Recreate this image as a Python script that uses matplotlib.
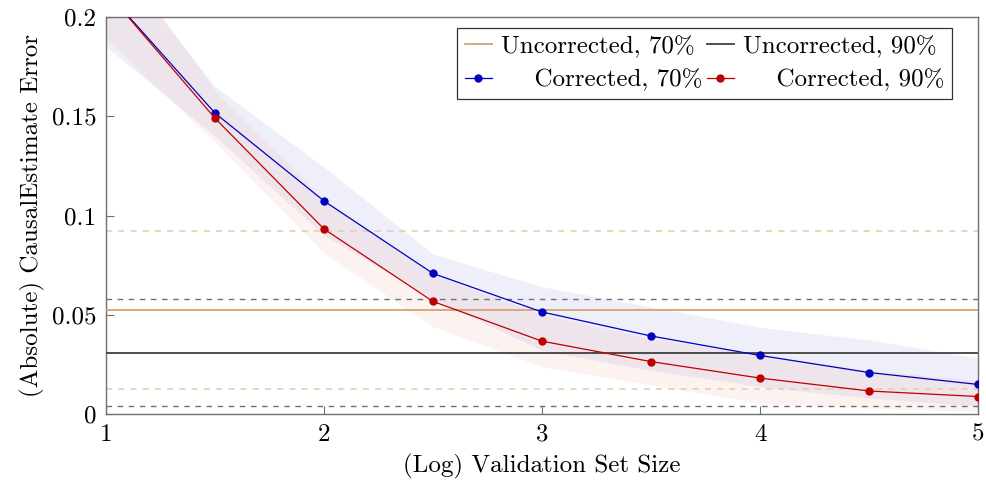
import matplotlib
matplotlib.use("Agg")
import matplotlib.pyplot as plt
from matplotlib.ticker import FixedLocator, FuncFormatter

plt.rcParams["font.family"] = ["cmr10", "DejaVu Serif"]
plt.rcParams["mathtext.fontset"] = "cm"
plt.rcParams["axes.formatter.use_mathtext"] = True

# Log validation set size
log_size = [1.0, 1.5, 2.0, 2.5, 3.0, 3.5, 4.0, 4.5, 5.0]

# Corrected estimates (mean with band bounds)
corr70 = [0.213, 0.1516, 0.1073, 0.0708, 0.0514, 0.0393, 0.0295, 0.0209, 0.0149]
corr70_hi = [0.235, 0.165, 0.1244, 0.0806, 0.0641, 0.0540, 0.0437, 0.0373, 0.0282]
corr70_lo = [0.185, 0.140, 0.090, 0.058, 0.032, 0.022, 0.0138, 0.008, 0.004]

corr90 = [0.213, 0.149, 0.0932, 0.0567, 0.0367, 0.0264, 0.0181, 0.0116, 0.0088]
corr90_hi = [0.240, 0.163, 0.108, 0.070, 0.050, 0.038, 0.030, 0.022, 0.017]
corr90_lo = [0.189, 0.137, 0.081, 0.044, 0.0238, 0.0146, 0.0055, 0.003, 0.0012]

# Uncorrected estimates: level and interval
uncorr70 = 0.0526
uncorr70_band = [0.0126, 0.0924]
uncorr90 = 0.0307
uncorr90_band = [0.0039, 0.0579]

x_ticks = [1, 2, 3, 4, 5]
y_ticks = [0, 0.05, 0.1, 0.15, 0.2]

blue = (0.0, 0.0, 0.75)
red = (0.75, 0.0, 0.0)
blue_band = "#3030c0"
red_band = "#d85030"
orange = "#d4a373"
orange_light = "#e8c9a8"
dark = "#404040"
gray = "#707070"

FS = 18

fig = plt.figure(figsize=(9.87, 4.84), dpi=100)
ax = fig.add_axes([0.1074, 0.1446, 0.8835, 0.8203])

ax.fill_between(log_size, corr70_lo, corr70_hi, color=blue_band, alpha=0.075, lw=0, zorder=1)
ax.fill_between(log_size, corr90_lo, corr90_hi, color=red_band, alpha=0.065, lw=0, zorder=1)

for v in uncorr70_band:
    ax.axhline(v, color=orange_light, lw=1.1, ls=(0, (4, 4)), zorder=2)
for v in uncorr90_band:
    ax.axhline(v, color=gray, lw=1.0, ls=(0, (4, 4)), zorder=2)

h_u70 = ax.axhline(uncorr70, color=orange, lw=1.3, zorder=3, label="Uncorrected, 70%")
h_u90 = ax.axhline(uncorr90, color=dark, lw=1.3, zorder=3, label="Uncorrected, 90%")

h_c70, = ax.plot(log_size, corr70, color=blue, lw=0.9, marker="o", ms=5,
                 zorder=4, label="    Corrected, 70%")
h_c90, = ax.plot(log_size, corr90, color=red, lw=0.9, marker="o", ms=5,
                 zorder=4, label="    Corrected, 90%")

ax.set_xlim(1, 5)
ax.set_ylim(0, 0.2)
ax.xaxis.set_major_locator(FixedLocator(x_ticks))
ax.yaxis.set_major_locator(FixedLocator(y_ticks))
ax.xaxis.set_major_formatter(FuncFormatter(lambda v, p: f"{v:g}"))
ax.yaxis.set_major_formatter(FuncFormatter(lambda v, p: f"{v:g}"))
ax.tick_params(direction="in", length=6, width=0.8, color=gray,
               labelsize=FS, pad=7)
for s in ax.spines.values():
    s.set_color(gray)
    s.set_linewidth(1.0)

ax.set_xlabel("(Log) Validation Set Size", fontsize=FS, labelpad=6)
ax.set_ylabel("(Absolute) CausalEstimate Error", fontsize=FS, labelpad=5)

leg = ax.legend(handles=[h_u70, h_c70, h_u90, h_c90], ncol=2,
                loc="upper right", bbox_to_anchor=(0.97, 0.972),
                fontsize=FS, frameon=True, fancybox=False,
                edgecolor="#333333", framealpha=1, handlelength=1.08,
                handletextpad=0.36, columnspacing=0.2, labelspacing=0.42,
                borderpad=0.3, borderaxespad=0)
leg.get_frame().set_linewidth(0.9)

fig.savefig("out.png", dpi=100)
